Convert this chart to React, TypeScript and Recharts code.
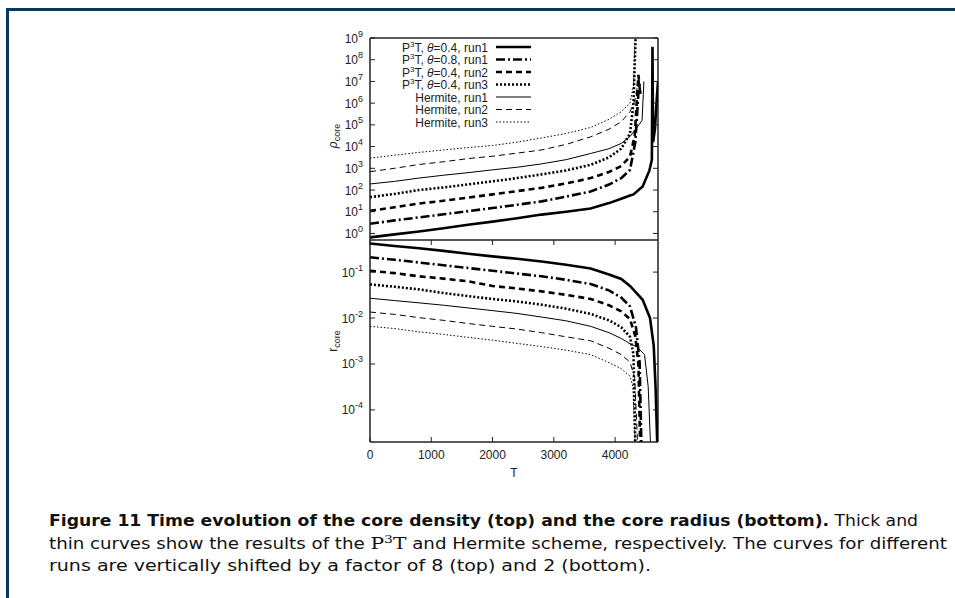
import React from "react";
import { LineChart, Line, XAxis, YAxis, ReferenceLine } from "recharts";

// shared time samples until the core collapse, then every run has its own tail
const T_BASE = [0, 400, 800, 1200, 1600, 2000, 2400, 2800, 3200, 3600, 3900, 4100, 4243];

// core density (top panel)
const rhoP04r1T = [...T_BASE, 4300, 4450, 4560, 4600, 4610, 4620, 4650, 4680, 4700];
const rhoP04r1 = [0.66, 0.91, 1.23, 1.74, 2.5, 3.5, 5.0, 7.4, 10, 14, 25, 40, 56, 63, 145, 800, 2500, 4e8, 1.6e4, 6.3e4, 1.6e6, 1e7];
const rhoP08r1T = [...T_BASE, 4330, 4390, 4420];
const rhoP08r1 = [2.8, 4.0, 5.5, 7.6, 10.7, 14.8, 21, 30, 50, 85, 178, 355, 850, 1.6e4, 8e6, 2e6];
const rhoP04r2T = [...T_BASE, 4320, 4380, 4400];
const rhoP04r2 = [11, 16, 24, 32, 45, 63, 89, 126, 200, 355, 680, 1260, 3500, 3.2e4, 2e7, 6.3e6];
const rhoP04r3T = [...T_BASE, 4300, 4340];
const rhoP04r3 = [47, 66, 100, 132, 182, 250, 355, 525, 800, 1450, 3200, 8000, 4e4, 1e6, 3e9];
const rhoH1T = [...T_BASE, 4350, 4440, 4470];
const rhoH1 = [190, 250, 355, 480, 630, 850, 1120, 1600, 2500, 4800, 8000, 1.4e4, 2.9e4, 7.2e4, 1.6e5, 1e7];
const rhoH2T = [...T_BASE, 4325, 4390, 4410];
const rhoH2 = [700, 1000, 1500, 2000, 2800, 3600, 5000, 7000, 1.26e4, 2.8e4, 6.3e4, 1.4e5, 4e5, 1.4e6, 1.6e7, 4e6];
const rhoH3T = [...T_BASE, 4300, 4330];
const rhoH3 = [2950, 4000, 5400, 7000, 9000, 1.12e4, 1.6e4, 2.5e4, 4e4, 7.6e4, 1.8e5, 4e5, 1e6, 6.3e6, 3e9];

// core radius (bottom panel)
const rP04r1T = [...T_BASE, 4450, 4570, 4630, 4660, 4690];
const rP04r1 = [0.42, 0.37, 0.33, 0.29, 0.25, 0.22, 0.195, 0.17, 0.145, 0.12, 0.089, 0.071, 0.05, 0.025, 0.01, 2.5e-3, 3.2e-4, 1.5e-5];
const rP08r1T = [...T_BASE, 4340, 4400, 4430];
const rP08r1 = [0.21, 0.186, 0.162, 0.141, 0.123, 0.107, 0.093, 0.081, 0.068, 0.055, 0.04, 0.028, 0.018, 6.3e-3, 1.1e-3, 1.5e-5];
const rP04r2T = [...T_BASE, 4330, 4380, 4410];
const rP04r2 = [0.107, 0.095, 0.081, 0.072, 0.063, 0.05, 0.044, 0.038, 0.032, 0.026, 0.019, 0.014, 9.5e-3, 4e-3, 1e-3, 1.5e-5];
const rP04r3T = [...T_BASE, 4300, 4330];
const rP04r3 = [0.054, 0.048, 0.042, 0.035, 0.03, 0.026, 0.023, 0.0195, 0.016, 0.0123, 8.9e-3, 6.3e-3, 3.9e-3, 1.6e-3, 1.5e-5];
const rH1T = [...T_BASE, 4350, 4480, 4540, 4580];
const rH1 = [0.027, 0.024, 0.0214, 0.019, 0.0166, 0.0145, 0.0126, 0.0105, 8.7e-3, 6.6e-3, 4.8e-3, 3.6e-3, 2.75e-3, 2.4e-3, 1.6e-3, 3.2e-4, 1.5e-5];
const rH2T = [...T_BASE, 4320, 4370];
const rH2 = [0.0135, 0.012, 0.0102, 8.9e-3, 7.6e-3, 6.6e-3, 5.75e-3, 4.8e-3, 3.9e-3, 3.2e-3, 2.2e-3, 1.6e-3, 1.1e-3, 5e-4, 1.5e-5];
const rH3T = [...T_BASE, 4290, 4330];
const rH3 = [6.6e-3, 5.9e-3, 5e-3, 4.4e-3, 3.8e-3, 3.3e-3, 2.8e-3, 2.4e-3, 2e-3, 1.6e-3, 1.07e-3, 7.9e-4, 5.4e-4, 3.2e-4, 1.5e-5];

const X_TICKS = [0, 1000, 2000, 3000, 4000];
const RHO_TICKS = [1, 10, 100, 1e3, 1e4, 1e5, 1e6, 1e7, 1e8, 1e9];
const R_TICKS = [1e-4, 1e-3, 1e-2, 1e-1];

// legend order == drawing order
const RUNS = [
  { key: "p04r1", scheme: "P3T", theta: "0.4", run: "run1", width: 2.6, dash: undefined },
  { key: "p08r1", scheme: "P3T", theta: "0.8", run: "run1", width: 2.6, dash: "9 3 2 3" },
  { key: "p04r2", scheme: "P3T", theta: "0.4", run: "run2", width: 2.6, dash: "6 4" },
  { key: "p04r3", scheme: "P3T", theta: "0.4", run: "run3", width: 2.6, dash: "2 2" },
  { key: "h1", scheme: "Hermite", theta: "", run: "run1", width: 1, dash: undefined },
  { key: "h2", scheme: "Hermite", theta: "", run: "run2", width: 1, dash: "6 4" },
  { key: "h3", scheme: "Hermite", theta: "", run: "run3", width: 1, dash: "1.5 2" },
];

const zip = (t: number[], v: number[]) => t.map((x, i) => ({ t: x, v: v[i] }));

const RHO_DATA = [
  zip(rhoP04r1T, rhoP04r1), zip(rhoP08r1T, rhoP08r1), zip(rhoP04r2T, rhoP04r2), zip(rhoP04r3T, rhoP04r3),
  zip(rhoH1T, rhoH1), zip(rhoH2T, rhoH2), zip(rhoH3T, rhoH3),
];
const R_DATA = [
  zip(rP04r1T, rP04r1), zip(rP08r1T, rP08r1), zip(rP04r2T, rP04r2), zip(rP04r3T, rP04r3),
  zip(rH1T, rH1), zip(rH2T, rH2), zip(rH3T, rH3),
];

const AXIS = "#222";
const SANS = "'Liberation Sans', Arial, sans-serif";
const PLOT_W = 288;
const PLOT_H = 202;

function LogTick(props: any) {
  const { x, y, payload } = props;
  const exp = Math.round(Math.log10(payload.value));
  return (
    <g>
      <line x1={x} x2={x + 5} y1={y} y2={y} stroke={AXIS} />
      <line x1={x + PLOT_W - 5} x2={x + PLOT_W} y1={y} y2={y} stroke={AXIS} />
      <text x={x - 7} y={y + 4.5} textAnchor="end" fontSize={12} fontFamily={SANS} fill="#222">
        10<tspan dy={-6} fontSize={9}>{exp}</tspan>
      </text>
    </g>
  );
}

function TimeTick(props: any) {
  const { x, y, payload, showLabel } = props;
  return (
    <g>
      <line x1={x} x2={x} y1={y} y2={y - 5} stroke={AXIS} />
      <line x1={x} x2={x} y1={y - PLOT_H} y2={y - PLOT_H + 5} stroke={AXIS} />
      {showLabel && (
        <text x={x} y={y + 17} textAnchor="middle" fontSize={12} fontFamily={SANS} fill="#222">
          {payload.value}
        </text>
      )}
    </g>
  );
}

function YTitle(props: any) {
  const { viewBox, main, italic, shift } = props;
  const cx = viewBox.x + 37;
  const cy = viewBox.y + viewBox.height / 2 + (shift || 0);
  return (
    <text
      x={cx}
      y={cy}
      transform={`rotate(-90 ${cx} ${cy})`}
      textAnchor="middle"
      fontSize={12}
      fontFamily={SANS}
      fill="#222"
    >
      <tspan fontStyle={italic ? "italic" : "normal"}>{main}</tspan>
      <tspan dy={3} fontSize={9}>core</tspan>
    </text>
  );
}

function XTitle(props: any) {
  const { viewBox } = props;
  return (
    <text x={viewBox.x + viewBox.width / 2} y={viewBox.y + 35} textAnchor="middle" fontSize={12} fontFamily={SANS} fill="#222">
      T
    </text>
  );
}

function Panel({ data, domain, ticks, title, italic, bottom, titleShift }: any) {
  const height = 10 + PLOT_H + (bottom ? 40 : 0);
  return (
    <LineChart width={360} height={height} margin={{ top: 10, right: 2, bottom: 0, left: 0 }}>
      <XAxis
        type="number"
        dataKey="t"
        domain={[0, 4700]}
        ticks={X_TICKS}
        interval={0}
        allowDataOverflow
        height={bottom ? 40 : 0}
        tickSize={0}
        tickMargin={0}
        stroke={AXIS}
        strokeWidth={1.5}
        tick={(p: any) => <TimeTick {...p} showLabel={bottom} />}
        label={bottom ? <XTitle /> : undefined}
      />
      <YAxis
        type="number"
        dataKey="v"
        scale="log"
        domain={domain}
        ticks={ticks}
        interval={0}
        allowDataOverflow
        width={70}
        tickSize={0}
        tickMargin={0}
        stroke={AXIS}
        strokeWidth={1.5}
        tick={(p: any) => <LogTick {...p} />}
        label={<YTitle main={title} italic={italic} shift={titleShift} />}
      />
      <ReferenceLine y={domain[1]} stroke={AXIS} strokeWidth={1.5} />
      <ReferenceLine x={4700} stroke={AXIS} strokeWidth={1.5} />
      {RUNS.map((s, i) => (
        <Line
          key={s.key}
          data={data[i]}
          dataKey="v"
          type="linear"
          stroke="#000"
          strokeWidth={s.width}
          strokeDasharray={s.dash}
          dot={false}
          isAnimationActive={false}
        />
      ))}
    </LineChart>
  );
}

function RunLabel({ s, x, y }: any) {
  if (s.scheme === "P3T") {
    return (
      <text x={x} y={y} textAnchor="end" fontSize={12} fontFamily={SANS} fill="#222">
        P<tspan dy={-5} fontSize={8}>3</tspan>
        <tspan dy={5}>T, </tspan>
        <tspan fontStyle="italic">θ</tspan>={s.theta}, {s.run}
      </text>
    );
  }
  return (
    <text x={x} y={y} textAnchor="end" fontSize={12} fontFamily={SANS} fill="#222">
      {s.scheme}, {s.run}
    </text>
  );
}

function LegendBox() {
  return (
    <svg width={955} height={200} style={{ position: "absolute", left: 0, top: 0, pointerEvents: "none" }}>
      {RUNS.map((s, i) => {
        const cy = 47 + i * 12.5;
        return (
          <g key={s.key}>
            <RunLabel s={s} x={488} y={cy + 4.5} />
            <line x1={496} x2={531} y1={cy} y2={cy} stroke="#000" strokeWidth={s.width} strokeDasharray={s.dash} />
          </g>
        );
      })}
    </svg>
  );
}

function Caption() {
  const font = "'DejaVu Sans Condensed', 'DejaVu Sans', sans-serif";
  return (
    <svg width={955} height={90} style={{ position: "absolute", left: 0, top: 505 }}>
      <text x={49} y={21} fontSize={16} fontFamily={font} fill="#111" textLength={869} lengthAdjust="spacingAndGlyphs">
        <tspan fontWeight="bold">Figure 11 Time evolution of the core density (top) and the core radius (bottom).</tspan> Thick and
      </text>
      <text x={49} y={44} fontSize={16} fontFamily={font} fill="#111" textLength={898} lengthAdjust="spacingAndGlyphs">
        thin curves show the results of the{" "}
        <tspan fontFamily="'DejaVu Serif', serif">P</tspan>
        <tspan fontFamily="'DejaVu Serif', serif" fontSize={11} dy={-6}>3</tspan>
        <tspan fontFamily="'DejaVu Serif', serif" dy={6}>T</tspan> and Hermite scheme, respectively. The curves for different
      </text>
      <text x={49} y={66} fontSize={16} fontFamily={font} fill="#111" textLength={602} lengthAdjust="spacingAndGlyphs">
        runs are vertically shifted by a factor of 8 (top) and 2 (bottom).
      </text>
    </svg>
  );
}

export default function App() {
  return (
    <div style={{ position: "absolute", left: 0, top: 0, width: 955, height: 598, background: "#fff", overflow: "hidden" }}>
      <div style={{ position: "absolute", left: 6, top: 8, width: 949, height: 3, background: "#0a3763" }} />
      <div style={{ position: "absolute", left: 6, top: 8, width: 3, height: 590, background: "#0a3763" }} />
      <div style={{ position: "absolute", left: 300, top: 28 }}>
        <Panel data={RHO_DATA} domain={[0.5, 1e9]} ticks={RHO_TICKS} title="ρ" italic bottom={false} titleShift={-3} />
      </div>
      <div style={{ position: "absolute", left: 300, top: 230 }}>
        <Panel data={R_DATA} domain={[2e-5, 0.5]} ticks={R_TICKS} title="r" italic={false} bottom titleShift={0} />
      </div>
      <LegendBox />
      <Caption />
    </div>
  );
}
